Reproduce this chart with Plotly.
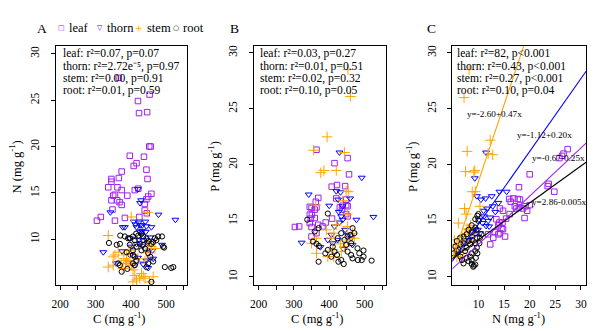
import plotly.graph_objects as go

W, H = 600, 331

# ---------------- data ----------------
# Panel A : C (mg/g) vs N (mg/g)
leaf_A_C = [366, 420, 453, 423, 446, 452, 456, 397, 437, 416, 408, 444, 374, 345, 345, 366, 447, 336, 362, 374,
            411, 421, 350, 355, 390, 345, 361, 368, 374, 444, 439, 449, 458, 439, 445, 348, 304, 315, 355, 383, 424]
leaf_A_N = [27.4, 24.9, 25.6, 23.6, 23.7, 20.0, 20.0, 19.0, 18.9, 18.2, 17.9, 17.5, 17.3, 16.5, 16.2, 16.6, 16.5, 15.6, 15.6, 15.3,
            15.3, 15.45, 14.7, 14.8, 14.7, 14.2, 14.2, 14.0, 13.7, 14.3, 13.8, 14.6, 14.9, 13.1, 12.8, 13.2, 12.0, 12.4, 12.0, 12.3, 12.4]
thorn_A_C = [420, 429, 426, 342, 478, 526, 408, 413, 422, 426, 432, 444, 458, 416, 383, 425, 432, 442, 397, 435,
             322, 402, 416, 432, 452, 461, 358, 420, 444, 463, 411, 435, 449, 488, 441, 397, 430, 455, 423, 448, 377, 375]
thorn_A_N = [15.4, 14.2, 13.9, 12.9, 12.65, 12.1, 11.9, 11.6, 11.8, 11.5, 11.5, 11.4, 11.3, 11.3, 11.3, 10.8, 10.9, 10.8, 10.1, 9.9,
             8.6, 9.2, 9.5, 9.3, 8.8, 8.8, 7.4, 8.0, 7.7, 7.9, 7.2, 7.3, 6.9, 9.4, 11.9, 8.3, 10.5, 10.2, 9.9, 9.6, 11.3, 8.7]
stem_A_C = [336, 448, 401, 364, 355, 350, 336, 350, 388, 388, 385, 392, 378, 406, 411, 430, 435, 425, 440, 406,
            416, 463, 453, 458, 468, 449, 397, 402, 420, 445, 440, 395, 410, 380, 372]
stem_A_N = [10.4, 12.9, 12.4, 8.6, 8.3, 8.1, 7.0, 7.2, 8.3, 7.7, 7.4, 7.4, 6.85, 6.7, 6.1, 6.3, 6.0, 5.8, 5.8, 5.4,
            5.6, 5.95, 5.4, 9.2, 9.0, 9.5, 7.6, 7.2, 7.9, 8.6, 7.6, 8.8, 8.9, 7.9, 7.4]
root_A_C = [338, 360, 369, 370, 383, 392, 397, 411, 406, 421, 430, 435, 444, 468, 477, 472, 463, 458, 425, 435,
            416, 406, 397, 491, 494, 388, 406, 411, 416, 406, 449, 455, 463, 449, 411, 369, 444, 496, 514, 520,
            374, 390, 458, 364, 488, 430, 440, 450, 415]
root_A_N = [9.6, 9.4, 9.5, 10.4, 10.3, 10.1, 10.1, 9.9, 10.3, 10.4, 10.6, 10.3, 10.1, 10.1, 10.3, 9.9, 9.7, 9.5, 9.5, 9.4,
            9.2, 8.8, 9.4, 9.2, 9.1, 8.6, 8.3, 8.1, 7.7, 7.4, 8.5, 8.1, 7.6, 7.4, 7.2, 7.2, 7.0, 7.0, 6.9, 7.0,
            6.5, 6.8, 5.4, 7.4, 10.3, 8.8, 9.0, 9.8, 10.6]

# Panel B : C (mg/g) vs P (mg/g)
leaf_B_C = [364, 452, 415, 456, 422, 407, 445, 369, 362, 448, 345, 350, 359, 364, 351, 438, 448, 452, 430, 436,
            303, 315, 348, 359, 345, 350, 369, 381, 390, 408, 448, 452, 364, 350, 345, 420]
leaf_B_P = [21.35, 20.6, 20.15, 19.15, 18.2, 18.05, 18.1, 17.05, 16.7, 16.9, 16.25, 16.15, 16.0, 16.2, 15.55, 16.35, 16.4, 16.3, 16.2, 16.0,
            14.45, 14.5, 15.2, 15.25, 14.8, 14.45, 14.65, 14.5, 14.85, 15.2, 15.6, 15.4, 13.9, 13.6, 15.55, 17.0]
thorn_B_C = [429, 492, 342, 400, 420, 432, 425, 459, 427, 438, 477, 525, 322, 375, 396, 406, 429, 438, 445, 452,
             424, 462, 466, 434, 415, 410, 440]
thorn_B_P = [21.1, 18.85, 17.35, 16.35, 17.65, 17.55, 16.9, 17.0, 15.8, 16.3, 15.1, 15.35, 13.05, 12.65, 13.3, 13.75, 14.85, 15.1, 14.2, 13.75,
             13.3, 13.45, 12.85, 15.4, 14.5, 13.0, 12.5]
stem_B_C = [394, 356, 443, 376, 385, 420, 448, 454, 362, 451, 438, 350, 364, 364, 406, 410, 396, 413, 434, 443,
            452, 392, 420, 452, 466, 471, 413, 432, 453, 460]
stem_B_P = [22.5, 21.3, 21.1, 19.3, 19.5, 19.5, 17.65, 17.6, 16.4, 15.6, 16.8, 13.0, 13.45, 12.1, 13.45, 12.4, 11.8, 11.8, 12.25, 12.7,
            14.5, 14.2, 14.65, 13.3, 13.9, 13.45, 13.9, 12.95, 28.5, 26.1]
root_B_C = [338, 396, 370, 359, 354, 364, 371, 370, 389, 410, 415, 406, 422, 426, 434, 441, 443, 452, 460, 462,
            471, 466, 452, 462, 466, 485, 481, 497, 497, 492, 520, 434, 424, 480, 448, 396]
root_B_P = [15.1, 15.65, 14.35, 14.05, 13.15, 12.95, 12.75, 11.35, 12.1, 12.7, 12.25, 11.8, 11.95, 11.35, 11.5, 11.15, 13.3, 13.6, 13.75, 13.0,
            13.9, 14.35, 12.25, 11.95, 11.65, 12.1, 11.5, 12.35, 11.8, 11.5, 11.45, 13.9, 13.45, 12.55, 12.85, 12.4]

# Panel C : N (mg/g) vs P (mg/g)
leaf_C_N = [27.4, 26.6, 25.8, 26.3, 20.0, 17.9, 23.7, 23.5, 24.8, 20.0, 16.8, 16.3, 17.7, 17.1, 17.4, 17.9, 18.7, 19.2, 19.5, 14.2,
            14.8, 16.1, 15.4, 14.7, 19.0, 13.5, 14.1, 13.9, 14.5, 14.8, 13.2, 13.9, 14.2, 12.3, 11.9, 15.2, 12.9, 16.0, 18.1]
leaf_C_P = [21.4, 21.0, 20.6, 20.8, 19.15, 18.0, 18.3, 18.1, 17.6, 16.4, 17.0, 16.7, 16.95, 16.3, 16.1, 16.2, 16.1, 16.3, 15.9, 16.1,
            15.9, 15.6, 15.2, 14.85, 15.25, 15.15, 14.85, 14.6, 14.3, 14.25, 14.0, 13.8, 13.9, 12.9, 13.8, 13.6, 13.5, 16.95, 16.9]
thorn_C_N = [9.3, 11.5, 9.7, 10.5, 11.4, 12.6, 14.1, 15.5, 11.0, 11.7, 12.3, 11.9, 11.5, 12.1, 10.3, 9.4, 8.7, 8.1, 7.4, 10.8,
             9.9, 12.8, 13.3, 8.9, 11.1, 10.1, 13.9]
thorn_C_P = [18.8, 21.1, 17.2, 16.9, 17.0, 17.2, 17.6, 17.6, 15.9, 16.1, 15.3, 15.0, 14.55, 14.5, 13.9, 13.8, 13.6, 13.3, 13.0, 14.8,
             14.2, 16.3, 15.8, 14.0, 15.4, 15.1, 16.6]
stem_C_N = [8.2, 7.2, 12.3, 7.8, 11.9, 12.8, 7.5, 9.1, 9.3, 8.8, 9.4, 10.3, 7.3, 7.6, 6.1, 8.1, 8.5, 5.3, 5.8, 6.8,
            5.2, 5.5, 7.4, 6.5, 7.0, 8.0, 9.0, 5.8, 6.2, 7.8]
stem_C_P = [28.5, 26.0, 22.2, 21.2, 21.0, 20.9, 19.4, 19.35, 19.5, 17.6, 17.6, 16.3, 16.1, 15.6, 14.8, 14.2, 14.6, 13.3, 12.9, 13.6,
            12.3, 12.6, 13.8, 12.2, 12.8, 13.2, 13.9, 11.8, 12.0, 14.3]
root_C_N = [10.0, 9.8, 9.4, 10.0, 8.7, 9.4, 8.1, 8.7, 9.6, 7.1, 7.7, 6.5, 5.8, 6.5, 7.1, 5.5, 6.1, 5.2, 5.8, 6.5,
            6.8, 7.7, 8.4, 7.1, 8.1, 8.7, 9.0, 9.4, 8.7, 9.5, 9.8, 9.7, 9.4, 10.2, 10.3, 10.6, 9.7, 7.7, 8.4, 7.4,
            8.7, 8.1, 9.4, 8.7, 9.1]
root_C_P = [15.6, 15.45, 15.15, 15.0, 14.6, 14.4, 14.2, 14.0, 14.2, 13.6, 13.8, 13.5, 13.2, 12.9, 13.0, 12.7, 12.4, 12.1, 12.3, 11.8,
            11.5, 11.7, 11.8, 11.2, 11.4, 11.15, 10.9, 11.1, 11.5, 11.7, 12.1, 12.6, 13.0, 13.0, 13.5, 13.8, 13.5, 12.6, 12.9, 12.3,
            13.3, 13.2, 12.3, 12.1, 11.0]

# regression lines drawn in panel C (P = a + b*N)
fit_groups = ["stem", "thorn", "leaf", "root"]
fit_intercept = [4.8, 8.2, 8.6, 10.0]
fit_slope = [1.37, 0.65, 0.43, 0.33]
fit_labels = ["y=-2.60+0.47x", "y=-1.12+0.20x", "y=-0.67-0.25x", "y=2.86-0.005x"]

groups = ["leaf", "thorn", "stem", "root"]
stats_A = ["leaf: r\u00b2=0.07, p=0.07", "thorn: r\u00b2=2.72e\u207b\u2075, p=0.97",
           "stem: r\u00b2=0.00, p=0.91", "root: r\u00b2=0.01, p=0.59"]
stats_B = ["leaf: r\u00b2=0.03, p=0.27", "thorn: r\u00b2=0.01, p=0.51",
           "stem: r\u00b2=0.02, p=0.32", "root: r\u00b2=0.10, p=0.05"]
stats_C = ["leaf: r\u00b2=82, p&lt;0.001", "thorn: r\u00b2=0.43, p&lt;0.001",
           "stem: r\u00b2=0.27, p&lt;0.001", "root: r\u00b2=0.10, p=0.04"]

x_ticks_C = [200, 300, 400, 500]
x_minor_C = [250, 350, 450, 550]
x_ticks_N = [10, 15, 20, 25, 30]
y_ticks = [10, 15, 20, 25, 30]

# ---------------- styling ----------------
SERIF = "Liberation Serif"
COL = dict(leaf="#A020F0", thorn="#0000FF", stem="#FFA500", root="#000000")
SYM = dict(leaf="square-open", thorn="triangle-down-open", stem="cross-thin-open", root="circle-open")
SIZE = dict(leaf=5.5, thorn=6, stem=7.5, root=5.2)

def fx(p):
    return p / W

def fy(p):
    return 1 - p / H

panel_px = {"": (52, 185), "2": (252, 385), "3": (452, 587)}
top_px, bot_px = 45, 285

fig = go.Figure()

def add_points(xs, ys, g, ax):
    fig.add_trace(go.Scatter(
        x=xs, y=ys, mode="markers", xaxis="x" + ax, yaxis="y" + ax,
        marker=dict(symbol=SYM[g], size=SIZE[g], color=COL[g],
                    line=dict(width=1.0, color=COL[g])),
        showlegend=False, hoverinfo="skip"))

dataA = {"leaf": (leaf_A_C, leaf_A_N), "thorn": (thorn_A_C, thorn_A_N),
         "stem": (stem_A_C, stem_A_N), "root": (root_A_C, root_A_N)}
dataB = {"leaf": (leaf_B_C, leaf_B_P), "thorn": (thorn_B_C, thorn_B_P),
         "stem": (stem_B_C, stem_B_P), "root": (root_B_C, root_B_P)}
dataC = {"leaf": (leaf_C_N, leaf_C_P), "thorn": (thorn_C_N, thorn_C_P),
         "stem": (stem_C_N, stem_C_P), "root": (root_C_N, root_C_P)}

for ax, d in (("", dataA), ("2", dataB), ("3", dataC)):
    for g in groups:
        add_points(d[g][0], d[g][1], g, ax)

xrange_C = [4.9, 31.0]
for g, a, b in zip(fit_groups, fit_intercept, fit_slope):
    xs = [xrange_C[0], xrange_C[1]]
    fig.add_trace(go.Scatter(
        x=xs, y=[a + b * v for v in xs], mode="lines", xaxis="x3", yaxis="y3",
        line=dict(color=COL[g], width=1.1), showlegend=False, hoverinfo="skip"))

axis_common = dict(showline=True, linecolor="black", linewidth=1, mirror=True,
                   ticks="outside", ticklen=4, tickwidth=1, tickcolor="black",
                   showgrid=False, zeroline=False,
                   tickfont=dict(family=SERIF, size=11.5, color="black"))

layout = dict(width=W, height=H, margin=dict(l=0, r=0, t=0, b=0),
              paper_bgcolor="white", plot_bgcolor="white",
              font=dict(family=SERIF, color="black"), showlegend=False)

ydom = [fy(bot_px), fy(top_px)]
ranges = {"": ([187, 560], [5.05, 30.85]), "2": ([187, 560], [9.26, 30.62]), "3": (xrange_C, [9.26, 30.62])}
for ax in ("", "2", "3"):
    l, r = panel_px[ax]
    xr, yr = ranges[ax]
    if ax == "3":
        xt = dict(tickmode="array", tickvals=x_ticks_N)
    else:
        xt = dict(tickmode="array", tickvals=x_ticks_C,
                  minor=dict(tickmode="array", tickvals=x_minor_C, ticks="outside",
                             ticklen=4, tickwidth=1, tickcolor="black", showgrid=False))
    layout["xaxis" + ax] = dict(axis_common, domain=[fx(l), fx(r)], range=xr,
                                anchor="y" + ax, ticklabelstandoff=4, **xt)
    layout["yaxis" + ax] = dict(axis_common, domain=ydom, range=yr, anchor="x" + ax,
                                tickmode="array", tickvals=y_ticks, tickangle=-90,
                                ticklabelstandoff=7)

fig.update_layout(**layout)

ann = []
def text(x, y, s, size=11.6, color="black", xanchor="left", angle=0, family=SERIF):
    ann.append(dict(x=fx(x), y=fy(y), xref="paper", yref="paper", text=s, showarrow=False,
                    xanchor=xanchor, yanchor="middle", textangle=angle,
                    font=dict(family=family, size=size, color=color)))

# panel letters
for lx, letter in ((38, "A"), (232, "B"), (431, "C")):
    text(lx, 28, letter, size=13.5, xanchor="center")

# legend row
leg_x = [(58, 64), (97, 102), (136, 142), (173, 178)]
leg_glyph = {"leaf": "\u25a1", "thorn": "\u25bd", "stem": "+", "root": "\u25cb"}
leg_gsize = {"leaf": 7, "thorn": 7, "stem": 9, "root": 7}
for (gx, tx), g in zip(leg_x, groups):
    text(gx, 27, leg_glyph[g], size=leg_gsize[g], color=COL[g], xanchor="center", family="DejaVu Sans")
    text(tx, 27, g, size=12.5)

# stats
line_y = [53, 65.5, 78, 90]
for x0, st in ((57, stats_A), (256.5, stats_B), (455, stats_C)):
    for yy, s in zip(line_y, st):
        text(x0, yy, s, size=11.6)

# fit labels in panel C
fit_label_px = [(495, 113), (545, 134), (559, 157), (560, 202)]
for (lx, ly), s in zip(fit_label_px, fit_labels):
    text(lx, ly, s, size=9.2, xanchor="center")

# axis titles
text(12, 166, "N (mg g<sup>-1</sup>)", size=12.5, xanchor="center", angle=-90)
text(212, 166, "P (mg g<sup>-1</sup>)", size=12.5, xanchor="center", angle=-90)
text(412, 166, "P (mg g<sup>-1</sup>)", size=12.5, xanchor="center", angle=-90)
text(116, 318, "C (mg g<sup>-1</sup>)", size=12.5, xanchor="center")
text(316, 318, "C (mg g<sup>-1</sup>)", size=12.5, xanchor="center")
text(519, 318, "N (mg g<sup>-1</sup>)", size=12.5, xanchor="center")

fig.update_layout(annotations=ann)
fig.write_html("out.html")
